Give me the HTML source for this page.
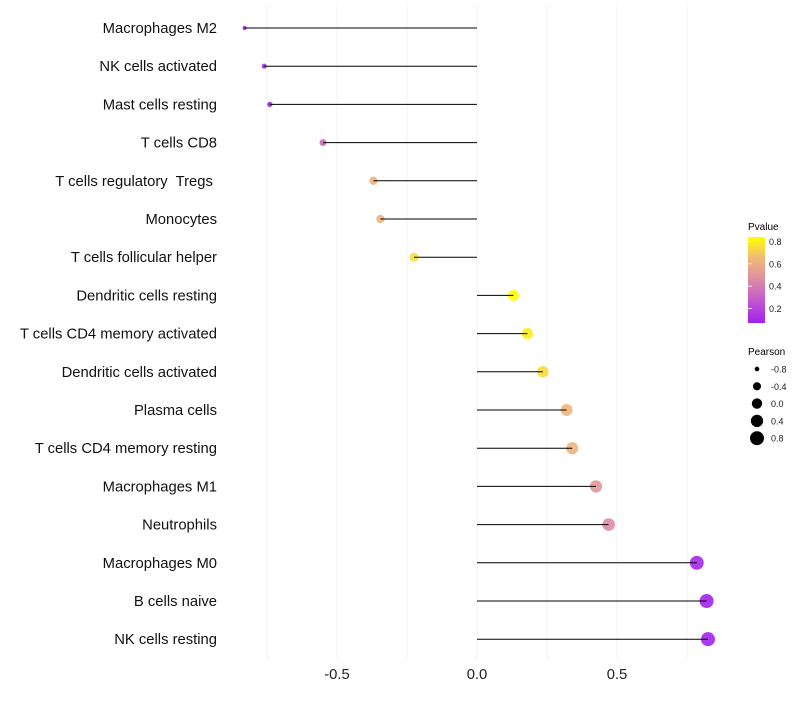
<!DOCTYPE html>
<html><head><meta charset="utf-8"><style>
body{margin:0;background:#fff;font-family:"Liberation Sans",sans-serif;}
svg text{font-family:"Liberation Sans",sans-serif;white-space:pre;}
</style></head><body>
<svg id="chart" width="800" height="700" xmlns="http://www.w3.org/2000/svg">
<defs><linearGradient id="pg" x1="0" y1="1" x2="0" y2="0">
<stop offset="0" stop-color="#A020F0"/><stop offset="0.3" stop-color="#C860C8"/><stop offset="0.56" stop-color="#E2989A"/><stop offset="0.75" stop-color="#F0B878"/><stop offset="1" stop-color="#FFFF00"/></linearGradient></defs>
<g id="grid"></g>
<g id="marks"></g>
<g id="labels"></g>
<g id="xt"></g>
<g>
<text x="748" y="230" font-size="10" fill="#000">Pvalue</text>
<rect x="748" y="237" width="17" height="86" fill="url(#pg)"/>
<g id="pleg"></g>
</g>
<g>
<text x="748" y="355" font-size="10" fill="#000">Pearson</text>
<g id="sleg"></g>
</g>
</svg>
<script>
const categories=["Macrophages M2","NK cells activated","Mast cells resting","T cells CD8","T cells regulatory  Tregs ","Monocytes","T cells follicular helper","Dendritic cells resting","T cells CD4 memory activated","Dendritic cells activated","Plasma cells","T cells CD4 memory resting","Macrophages M1","Neutrophils","Macrophages M0","B cells naive","NK cells resting"];
const pearson=[-0.83,-0.76,-0.74,-0.55,-0.37,-0.345,-0.225,0.13,0.18,0.235,0.32,0.34,0.425,0.47,0.785,0.82,0.825];
const pvalue=[0.07,0.1,0.1,0.33,0.62,0.62,0.76,0.85,0.8,0.75,0.64,0.63,0.5,0.46,0.1,0.08,0.08];
const xTicks=[-0.5,0,0.5];
const pTicks=[0.2,0.4,0.6,0.8];
const sizeTicks=[-0.8,-0.4,0.0,0.4,0.8];
const NS="http://www.w3.org/2000/svg";
const x=v=>477+v*280;
const y=i=>28+i*38.2;
const pY=v=>323-(v-0.07)/(0.84-0.07)*86;
const stops=[[0.07,[160,32,240]],[0.3,[200,96,200]],[0.5,[226,152,154]],[0.65,[240,184,120]],[0.85,[255,255,0]]];
function col(p){p=Math.max(0.07,Math.min(0.85,p));for(let k=0;k<stops.length-1;k++){const a=stops[k],b=stops[k+1];if(p<=b[0]){const t=(p-a[0])/(b[0]-a[0]);return "rgb("+a[1].map((c,j)=>Math.round(c+(b[1][j]-c)*t)).join(",")+")";}}return "rgb(255,255,0)";}
const r=v=>Math.sqrt(4+(v+0.85)/1.7*(50-4));
function mk(tag,at,parent){const e=document.createElementNS(NS,tag);for(const k in at)e.setAttribute(k,at[k]);document.getElementById(parent).appendChild(e);return e;}
for(let g=-0.75;g<=0.76;g+=0.25){const l=mk("line",{x1:x(g),x2:x(g),y1:5,y2:660,stroke:"#f3f3f3","stroke-width":1},"grid");

}
categories.forEach((c,i)=>{
const t=mk("text",{x:217,y:y(i)+5,"text-anchor":"end","font-size":"14.8",fill:"#111"},"labels");t.textContent=c;


const p=mk("circle",{cx:x(pearson[i]),cy:y(i),r:r(pearson[i]),fill:col(pvalue[i]),"fill-opacity":0.9},"marks");


const l=mk("line",{x1:x(0),x2:x(pearson[i]),y1:y(i),y2:y(i),stroke:"#000","stroke-width":1},"marks");


});
xTicks.forEach(v=>{const t=mk("text",{x:x(v),y:679,"text-anchor":"middle","font-size":"14.8",fill:"#222"},"xt");t.textContent=v===0?"0.0":v.toFixed(1);

});
pTicks.forEach(v=>{const t=mk("text",{x:769,y:pY(v)+3.5,"font-size":"9",fill:"#1a1a1a"},"pleg");t.textContent=v.toFixed(1);


const k=mk("line",{x1:748,x2:752,y1:pY(v),y2:pY(v),stroke:"#fff","stroke-width":0.8},"pleg");

});
sizeTicks.forEach((v,i)=>{const cy=369+i*17.3;const c=mk("circle",{cx:757,cy:cy,r:r(v),fill:"#000"},"sleg");


const t=mk("text",{x:771,y:cy+3.5,"font-size":"9",fill:"#1a1a1a"},"sleg");t.textContent=v.toFixed(1);

});
</script>
</body></html>
